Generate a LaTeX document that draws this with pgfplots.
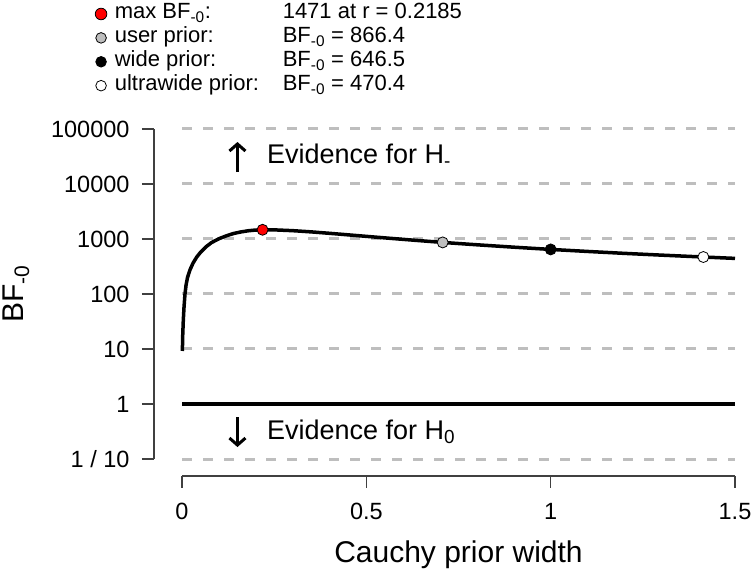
\documentclass[border=0pt]{standalone}
\usepackage{fontspec}
\setmainfont{Liberation Sans}
\usepackage{pgfplots}
\pgfplotsset{compat=1.18}
\usetikzlibrary{arrows.meta}
\definecolor{gridgray}{RGB}{190,190,190}
\definecolor{dotgray}{RGB}{190,190,190}
\newcommand{\fs}[1]{\fontsize{#1bp}{#1bp}\selectfont}

\begin{document}
\begin{tikzpicture}
\useasboundingbox (0,0) rectangle (754bp,572bp);
\begin{axis}[
    at={(182bp,113bp)}, anchor=south west,
    scale only axis, width=553bp, height=330bp,
    xmin=0, xmax=1.5,
    ymode=log, ymin=0.1, ymax=100000,
    axis x line*=bottom, axis y line*=left,
    axis line style={-, black!75, line width=1.3bp},
    x axis line style={yshift=-17bp},
    y axis line style={xshift=-28bp},
    xtick={0,0.5,1,1.5}, xticklabels={0,0.5,1,1.5},
    ytick={0.1,1,10,100,1000,10000,100000},
    yticklabels={1 / 10,1,10,100,1000,10000,100000},
    xminorticks=false, yminorticks=false,
    tick align=outside, major tick length=12bp,
    xtick style={yshift=-17bp, black!75, line width=1.3bp},
    ytick style={xshift=-28bp, black!75, line width=1.3bp},
    xticklabel style={font=\fs{23.5}, yshift=-29bp},
    yticklabel style={font=\fs{23.5}, xshift=-37bp},
    ymajorgrids, grid style={gridgray, line width=3bp, dash pattern=on 10bp off 11bp},
    xlabel={Cauchy prior width},
    xlabel style={font=\fs{30}, at={(axis description cs:0.5,-0.315)}, anchor=base},
    ylabel={BF\textsubscript{-0}},
    ylabel style={font=\fs{30}, at={(axis description cs:-0.2875,0.5)}, anchor=base},
    legend style={at={(axis description cs:-0.1633,1.39)}, anchor=north west,
        draw=none, fill=none, font=\fs{22}, row sep=0.9bp,
        nodes={inner sep=1.5bp, text height=15bp, text depth=5bp}},
    legend cell align=left,
    clip=false,
]
% reference line at BF = 1
\addplot[black, line width=3.5bp, forget plot] coordinates {(0,1) (1.5,1)};

% robustness curve
\addplot[black, line width=3.5bp, line join=round, forget plot] coordinates {
 (0.001,9.2) (0.002,18) (0.0035,33) (0.0055,58) (0.0081,100) (0.011,145)
 (0.015,200) (0.0217,275) (0.03,365) (0.04,470) (0.05,570) (0.065,720)
 (0.08,860) (0.1,1010) (0.12,1140) (0.14,1260) (0.16,1345) (0.18,1412)
 (0.2,1455) (0.2185,1471) (0.25,1466) (0.3,1418) (0.35,1348) (0.4,1269)
 (0.45,1191) (0.5,1117) (0.55,1048) (0.6,985) (0.65,927) (0.7071,866.4)
 (0.8,785) (0.9,710) (1,646.5) (1.1,594) (1.2,548) (1.3,509)
 (1.4142,470.4) (1.5,444)
};

\addplot[only marks, mark=*, mark size=5.5bp, mark options={fill=red, draw=black, line width=0.8bp},
    legend image code/.code={\filldraw[fill=red, draw=black, line width=0.8bp] (0bp,0bp) circle (5.8bp);}]
    coordinates {(0.2185,1471)};
\addlegendentry{\hspace*{6bp}\makebox[168bp][l]{max BF\textsubscript{-0}:}1471 at r = 0.2185}
\addplot[only marks, mark=*, mark size=5.5bp, mark options={fill=dotgray, draw=black, line width=0.8bp},
    legend image code/.code={\filldraw[fill=dotgray, draw=black, line width=0.8bp] (0bp,0bp) circle (5.3bp);}]
    coordinates {(0.7071,866.4)};
\addlegendentry{\hspace*{6bp}\makebox[168bp][l]{user prior:}BF\textsubscript{-0} = 866.4}
\addplot[only marks, mark=*, mark size=5.5bp, mark options={fill=black, draw=black, line width=0.8bp},
    legend image code/.code={\filldraw[fill=black, draw=black, line width=0.8bp] (0bp,0bp) circle (5.3bp);}]
    coordinates {(1,646.5)};
\addlegendentry{\hspace*{6bp}\makebox[168bp][l]{wide prior:}BF\textsubscript{-0} = 646.5}
\addplot[only marks, mark=*, mark size=5.5bp, mark options={fill=white, draw=black, line width=0.8bp},
    legend image code/.code={\filldraw[fill=white, draw=black, line width=0.8bp] (0bp,0bp) circle (5.3bp);}]
    coordinates {(1.4142,470.4)};
\addlegendentry{\hspace*{6bp}\makebox[168bp][l]{ultrawide prior:}BF\textsubscript{-0} = 470.4}

% evidence annotations
\node[anchor=base west, inner sep=0, font=\fs{27}] at (axis cs:0.2304,23100) {Evidence for H\textsubscript{-}};
\node[anchor=base west, inner sep=0, font=\fs{27}] at (axis cs:0.2304,0.231) {Evidence for H\textsubscript{0}};
\draw[line width=3bp, -{Straight Barb[length=7bp,width=16bp]}] (axis cs:0.1504,16500) -- (axis cs:0.1504,58000);
\draw[line width=3bp, -{Straight Barb[length=7bp,width=16bp]}] (axis cs:0.1504,0.58) -- (axis cs:0.1504,0.165);
\end{axis}
\end{tikzpicture}
\end{document}
